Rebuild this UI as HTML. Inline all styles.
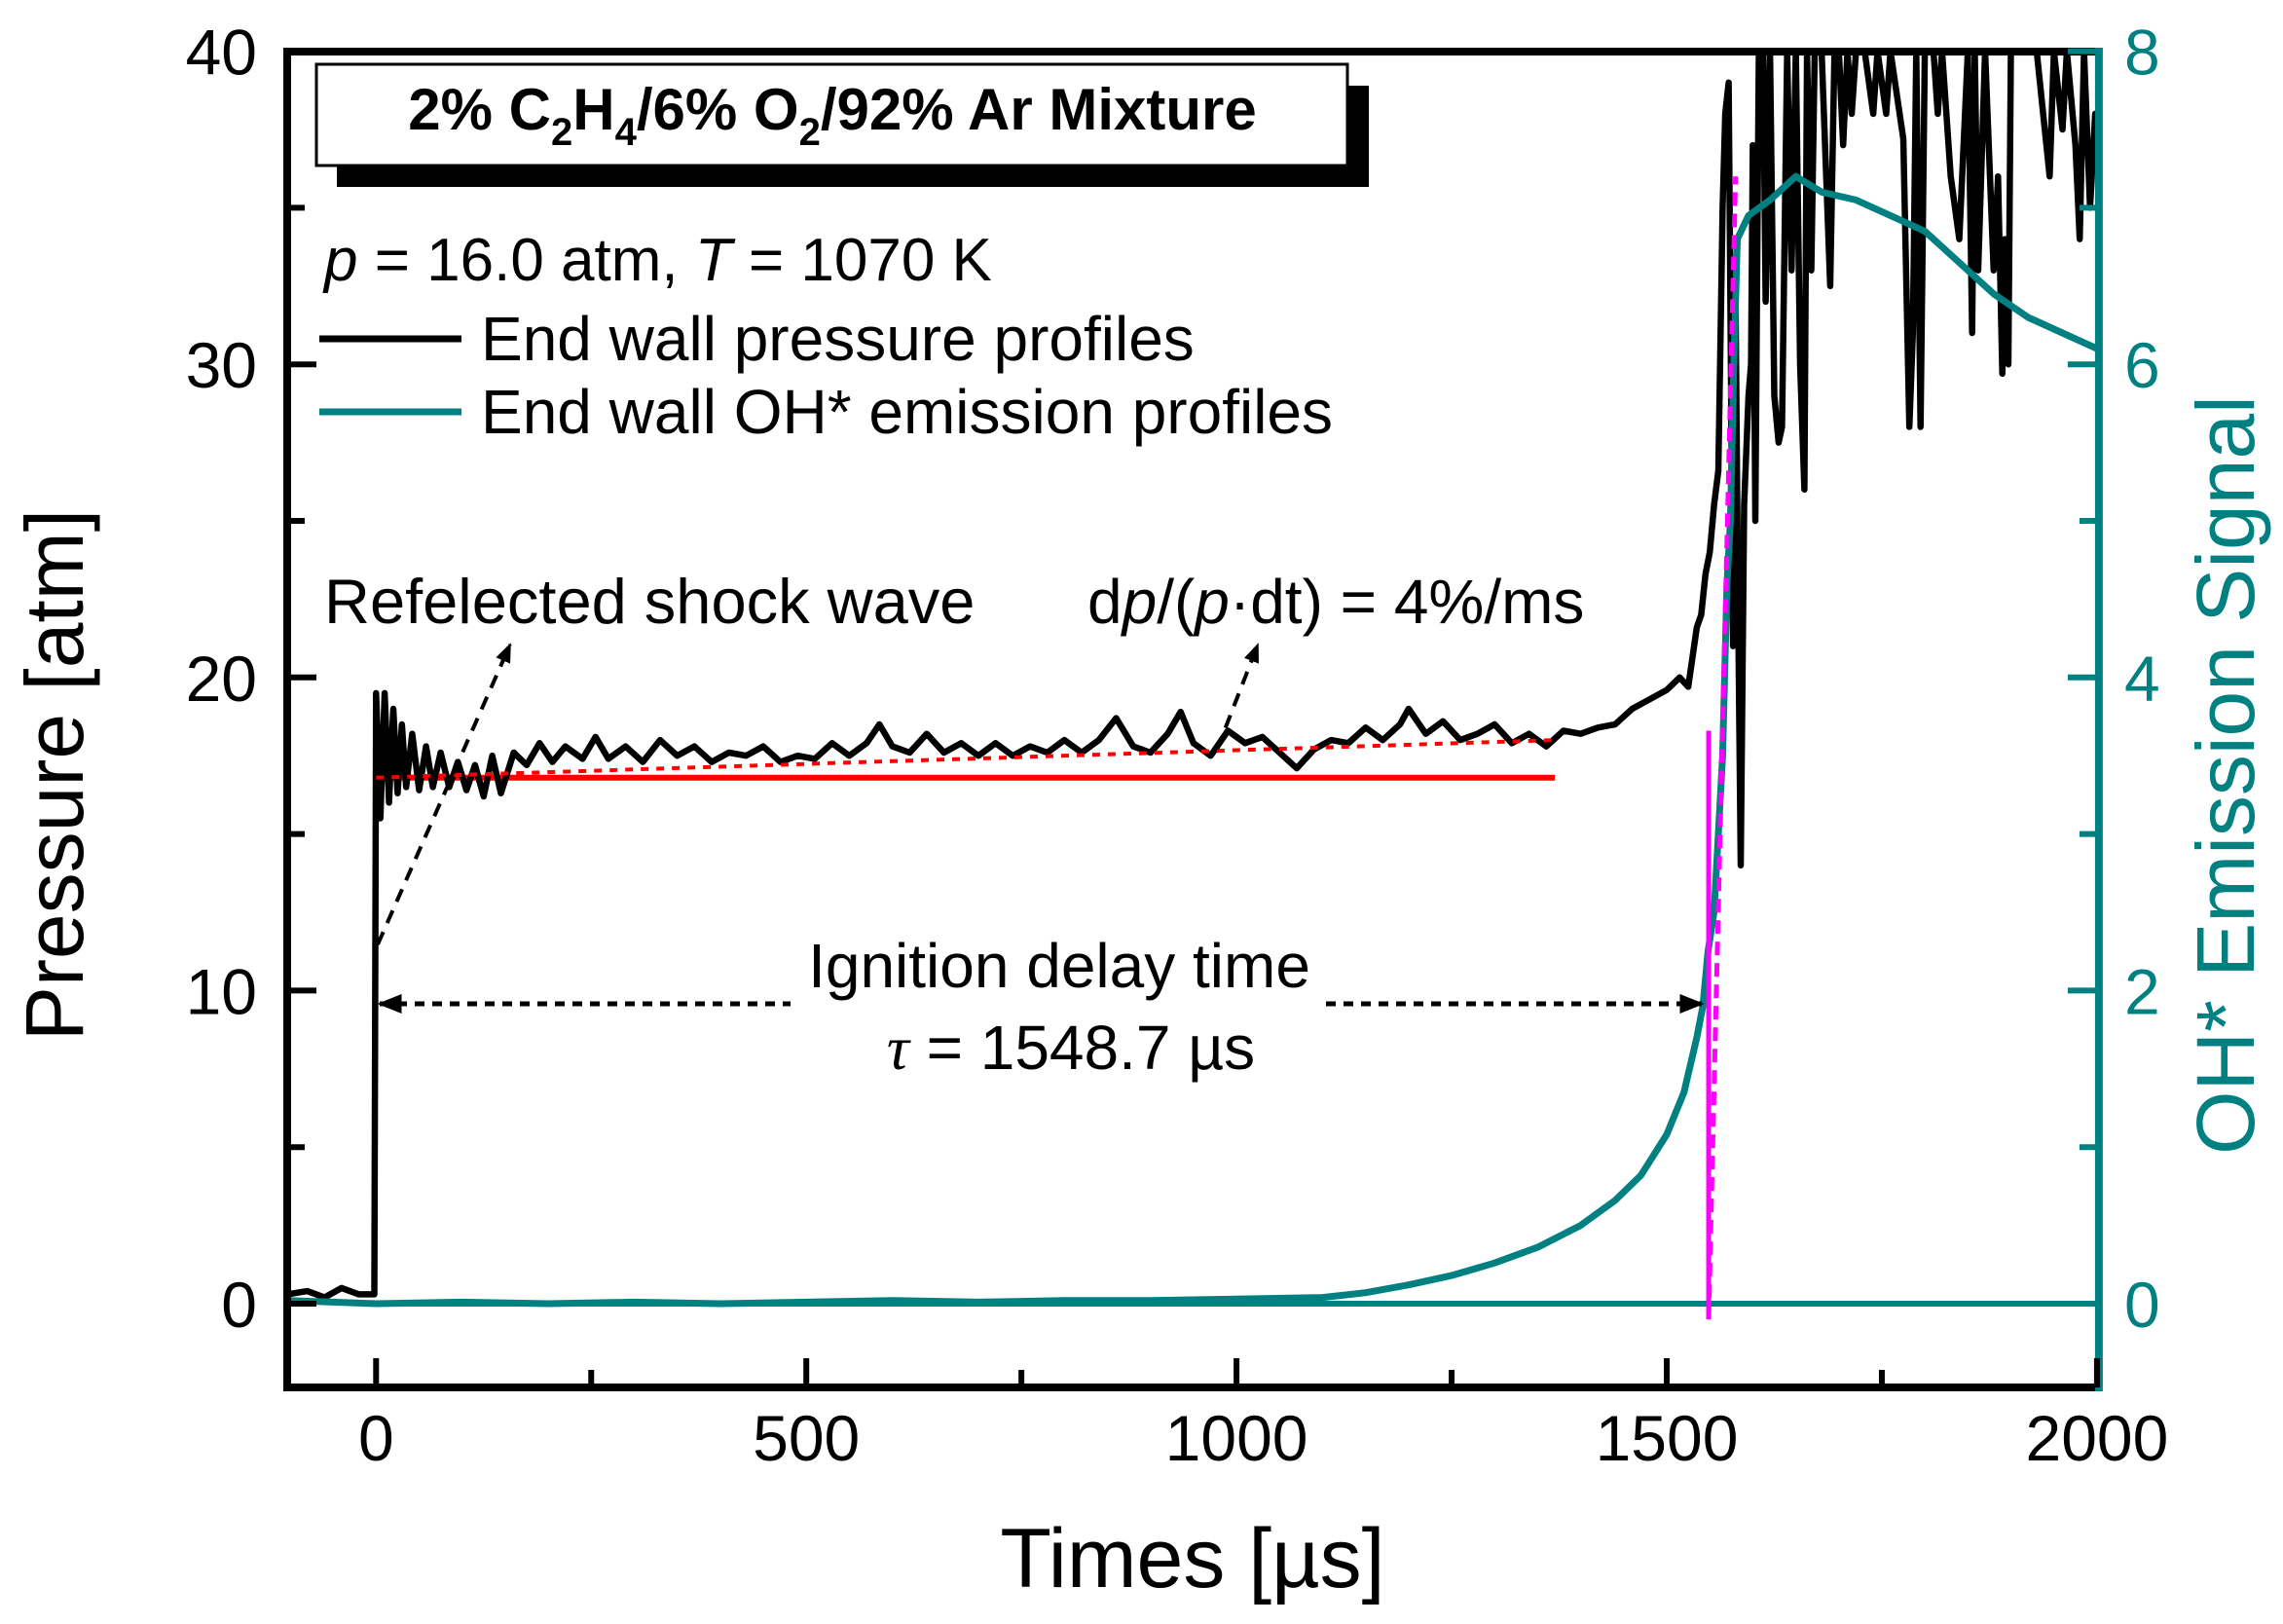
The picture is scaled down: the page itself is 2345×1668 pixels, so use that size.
<!DOCTYPE html>
<html><head><meta charset="utf-8"><style>
html,body{margin:0;padding:0;background:#fff;}
svg{display:block;font-family:"Liberation Sans",Arial,sans-serif;}
</style></head><body>
<svg id="chart" width="2345" height="1668" viewBox="0 0 2345 1668" xmlns="http://www.w3.org/2000/svg">
<defs><clipPath id="plotclip"><rect x="295" y="53" width="1859" height="1372"/></clipPath></defs>
<g id="marks" clip-path="url(#plotclip)"></g>
<g id="axes"></g>
</svg>
<script>
const pT=[-103,-80,-60,-40,-20,-2,0,5,10,15,20,25,30,35,42,50,58,66,75,85,95,105,115,125,135,145,160,175,190,205,220,240,255,270,290,310,330,350,370,390,410,430,450,470,490,510,530,550,570,585,600,620,640,660,680,700,720,740,760,780,800,820,840,860,880,900,920,935,950,970,990,1010,1030,1050,1070,1090,1110,1130,1150,1170,1190,1200,1220,1240,1260,1280,1300,1320,1340,1360,1380,1400,1420,1440,1460,1480,1500,1515,1525,1535,1540,1545,1550,1555,1560,1562,1565,1568,1572,1574,1577,1580,1583,1586,1590,1595,1598,1600,1603,1607,1612,1615,1620,1625,1630,1634,1640,1645,1650,1655,1660,1663,1668,1672,1680,1690,1695,1700,1705,1710,1715,1720,1730,1740,1745,1755,1760,1775,1782,1786,1790,1795,1800,1810,1815,1820,1830,1840,1850,1855,1858,1862,1870,1880,1885,1890,1893,1897,1900,1920,1930,1945,1950,1960,1965,1975,1980,1985,1992,1998,2005];
const pV=[0.3,0.4,0.2,0.5,0.3,0.3,19.5,15.5,19.5,16,19,16.3,18.5,16.5,18.2,16.4,17.8,16.5,17.6,16.5,17.3,16.4,17.2,16.2,17.5,16.3,17.6,17.2,17.9,17.3,17.8,17.4,18.1,17.4,17.8,17.3,18.0,17.5,17.8,17.3,17.6,17.5,17.8,17.3,17.5,17.4,17.9,17.5,17.9,18.5,17.8,17.6,18.2,17.6,17.9,17.5,17.9,17.5,17.8,17.6,18.0,17.6,18.0,18.7,17.8,17.6,18.2,18.9,17.9,17.5,18.3,17.9,18.1,17.6,17.1,17.7,18.0,17.9,18.4,18.0,18.5,19.0,18.2,18.6,18.0,18.2,18.5,17.9,18.2,17.8,18.3,18.2,18.4,18.5,19.0,19.3,19.6,20.0,19.7,21.6,22,23.3,24.0,25.5,26.6,30,35,38,39,32,21,32,22,14,25.5,29,30,37,25,40,40,32,40,29,27.5,28,40,33,40,30,26,40,33,40,40,32.5,40,40,37,40,38,40,40,38,40,38,40,37.2,28,31,40,28,40,40,38,40,36,34,40,31,40,33,40,33,36,29.7,34,30,40,40,40,36,40,37.5,40,37,34,40,35,38,38];
const ohT=[-103,-50,0,100,200,300,400,500,600,700,800,900,1000,1100,1150,1200,1250,1300,1350,1400,1440,1470,1500,1520,1535,1542,1548,1555,1560,1565,1570,1574,1578,1582,1595,1620,1650,1680,1720,1760,1800,1840,1880,1920,1960,2000];
const ohV=[0.02,0.01,0.0,0.01,0.0,0.01,0.0,0.01,0.02,0.01,0.02,0.02,0.03,0.04,0.07,0.12,0.18,0.26,0.36,0.5,0.66,0.82,1.08,1.35,1.7,1.9,2.25,2.5,3.0,3.5,4.6,5.0,6.0,6.8,6.95,7.05,7.2,7.1,7.05,6.95,6.85,6.65,6.45,6.3,6.2,6.1];
const xTicks=[0,500,1000,1500,2000];
const yTicks=[0,10,20,30,40];
const y2Ticks=[0,2,4,6,8];
const tau=1548.7;
const fitStart=[0,16.8],fitEnd=[1370,18.0];

const NS="http://www.w3.org/2000/svg";
const X=v=>386.3+v*0.8838;
const Y=p=>1339-p*32.16;
const Y2=s=>Y(s*5);
function mk(parent,tag,attrs){const e=document.createElementNS(NS,tag);for(const k in attrs)e.setAttribute(k,attrs[k]);document.getElementById(parent).appendChild(e);return e;}
const marks='marks',axes='axes';

let l;
l=mk(marks,'line',{x1:X(0),x2:X(2000),y1:Y2(0),y2:Y2(0),stroke:'#008080','stroke-width':6});


l=mk(marks,'line',{x1:X(fitStart[0]),x2:X(fitEnd[0]),y1:Y(fitStart[1]),y2:Y(fitStart[1]),stroke:'#ff0000','stroke-width':6});


let d=pT.map((t,i)=>(i?'L':'M')+X(t).toFixed(1)+','+Y(pV[i]).toFixed(1)).join(' ');
l=mk(marks,'path',{d:d,fill:'none',stroke:'#000','stroke-width':6.5,'stroke-linejoin':'round'});


l=mk(marks,'line',{x1:X(fitStart[0]),x2:X(fitEnd[0]),y1:Y(fitStart[1]),y2:Y(fitEnd[1]),stroke:'#ff0000','stroke-width':4,'stroke-dasharray':'8 8'});


d=ohT.map((t,i)=>(i?'L':'M')+X(t).toFixed(1)+','+Y2(ohV[i]).toFixed(1)).join(' ');
l=mk(marks,'path',{d:d,fill:'none',stroke:'#008080','stroke-width':7,'stroke-linejoin':'round'});


l=mk(marks,'line',{x1:X(tau),x2:X(tau),y1:Y(18.3),y2:Y(-0.5),stroke:'#ff00ff','stroke-width':5});


l=mk(marks,'line',{x1:X(tau),x2:X(1580),y1:Y(-0.5),y2:Y(36),stroke:'#ff00ff','stroke-width':5,'stroke-dasharray':'14 8'});



l=mk(axes,'path',{d:`M${X(2000)},53 L295,53 L295,1425 L${X(2000)},1425`,fill:'none',stroke:'#000','stroke-width':8});


l=mk(axes,'line',{x1:X(2000)+2,x2:X(2000)+2,y1:49,y2:1429,stroke:'#008080','stroke-width':8});


for(let v=0;v<=2000;v+=250){const major=v%500===0;
 l=mk(axes,'line',{x1:X(v),x2:X(v),y1:1425,y2:1425-(major?30:18),stroke:'#000','stroke-width':6});
 
 }
xTicks.forEach(v=>{const t=mk(axes,'text',{x:X(v),y:1500,'font-size':66,'text-anchor':'middle'});t.textContent=v;
 
 });
for(let v=0;v<=40;v+=5){const major=v%10===0;
 l=mk(axes,'line',{x1:295,x2:295+(major?30:18),y1:Y(v),y2:Y(v),stroke:'#000','stroke-width':6});
 
 }
yTicks.forEach(v=>{const t=mk(axes,'text',{x:264,y:Y(v)+24,'font-size':66,'text-anchor':'end'});t.textContent=v;
 
 });
for(let v=0;v<=8;v+=1){const major=v%2===0;
 l=mk(axes,'line',{x1:X(2000),x2:X(2000)-(major?30:18),y1:Y2(v),y2:Y2(v),stroke:'#008080','stroke-width':6});
 
 }
y2Ticks.forEach(v=>{const t=mk(axes,'text',{x:2182,y:Y2(v)+24,'font-size':66,fill:'#008080'});t.textContent=v;
 
 });
</script>
<svg style="position:absolute;left:0;top:0" width="2345" height="1668" viewBox="0 0 2345 1668" font-family="Liberation Sans, Arial, sans-serif">
<defs><marker id="ah" viewBox="0 0 10 10" refX="9" refY="5" markerWidth="5" markerHeight="5" orient="auto-start-reverse"><path d="M0,1 L10,5 L0,9 z" fill="#000"/></marker></defs>
<text x="1225" y="1630" font-size="86" text-anchor="middle">Times [µs]</text>
<text transform="translate(85,796) rotate(-90)" font-size="84" text-anchor="middle">Pressure [atm]</text>
<text transform="translate(2315,796) rotate(-90)" font-size="84" text-anchor="middle" fill="#008080">OH* Emission Signal</text>
<rect x="346" y="88" width="1060" height="104" fill="#000"/>
<rect x="325" y="66" width="1059" height="104" fill="#fff" stroke="#000" stroke-width="3"/>
<text x="855" y="133" font-size="60" font-weight="bold" text-anchor="middle">2% C<tspan font-size="40" dy="16">2</tspan><tspan dy="-16">H</tspan><tspan font-size="40" dy="16">4</tspan><tspan dy="-16">/6% O</tspan><tspan font-size="40" dy="16">2</tspan><tspan dy="-16">/92% Ar Mixture</tspan></text>
<text x="333" y="288" font-size="62"><tspan font-style="italic">p</tspan> = 16.0 atm, <tspan font-style="italic">T</tspan> = 1070 K</text>
<line x1="328" y1="348" x2="474" y2="348" stroke="#000" stroke-width="7"/>
<text x="494" y="370" font-size="64">End wall pressure profiles</text>
<line x1="328" y1="423" x2="474" y2="423" stroke="#008080" stroke-width="7"/>
<text x="494" y="445" font-size="64">End wall OH* emission profiles</text>
<text x="333" y="640" font-size="65">Refelected shock wave</text>
<line x1="388" y1="970" x2="524" y2="662" stroke="#000" stroke-width="4" stroke-dasharray="14 10" marker-end="url(#ah)"/>
<text x="1117" y="640" font-size="64">d<tspan font-style="italic">p</tspan>/(<tspan font-style="italic">p</tspan>·dt) = 4%/ms</text>
<line x1="1250" y1="770" x2="1292" y2="662" stroke="#000" stroke-width="4" stroke-dasharray="14 10" marker-end="url(#ah)"/>
<line x1="390" y1="1031" x2="1748" y2="1031" stroke="#000" stroke-width="5" stroke-dasharray="10 8" marker-start="url(#ah)" marker-end="url(#ah)"/>
<rect x="812" y="958" width="545" height="82" fill="#fff"/>
<text x="1088" y="1014" font-size="64" text-anchor="middle">Ignition delay time</text>
<text x="1100" y="1098" font-size="64" text-anchor="middle"><tspan font-style="italic" font-family="Liberation Serif, serif">τ</tspan> = 1548.7 µs</text>
</svg>
</body></html>
